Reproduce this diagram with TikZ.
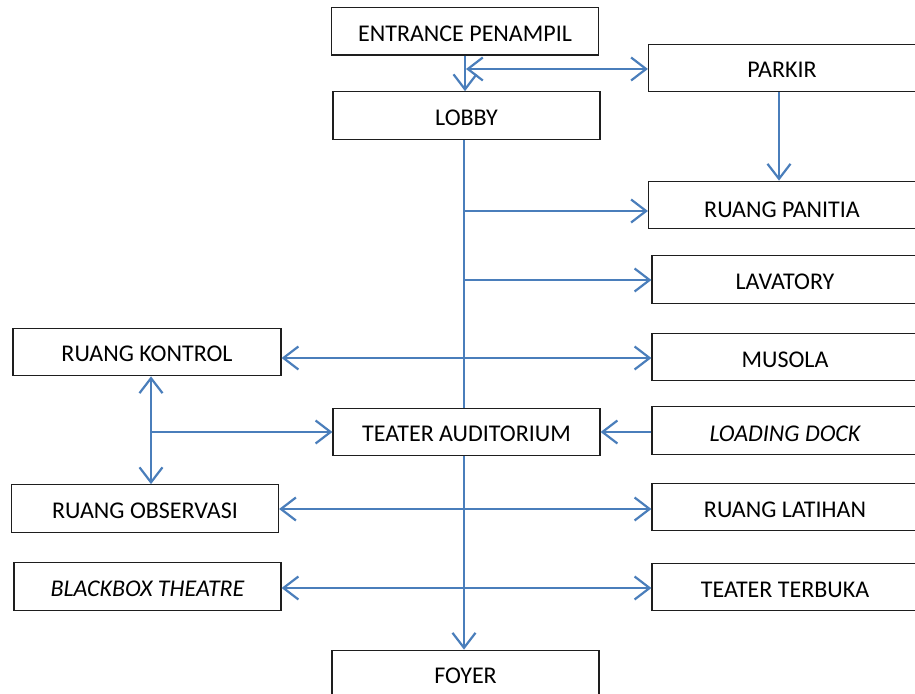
\documentclass[tikz,border=0pt]{standalone}
\usepackage{fontspec}
\setmainfont{Carlito}
\usetikzlibrary{arrows.meta}
\definecolor{flowblue}{RGB}{74,126,187}
\definecolor{boxline}{RGB}{30,30,30}
% box labels sit a little below the geometric centre
\newcommand\boxtext[1]{\raisebox{-1.1pt}[\height][\depth]{#1}}
\begin{document}
\begin{tikzpicture}[x=0.5pt,y=-0.5pt,
  lbl/.style={font=\fontsize{12}{14}\selectfont},
  box/.style={lbl,draw=boxline,line width=0.6pt,fill=white,inner sep=0pt,
    minimum height=23.75pt},
  wbox/.style={box,minimum width=133.5pt},
  rbox/.style={box,minimum width=140pt},
  flow/.style={draw=flowblue,line width=1.1pt},
  arr/.style={flow,-{Straight Barb[length=7.5pt,width=11.5pt,line width=1.1pt]}},
  arrb/.style={flow,{Straight Barb[length=7.5pt,width=11.5pt,line width=1.1pt]}-{Straight Barb[length=7.5pt,width=11.5pt,line width=1.1pt]}}]
\useasboundingbox (0,0) rectangle (915,694);
\clip (0,0) rectangle (915,694);

% central column
\node[wbox] (entrance) at (465,31.25) {\boxtext{ENTRANCE PENAMPIL}};
\node[wbox] (lobby) at (466.5,115.5) {\boxtext{LOBBY}};
\node[wbox] (auditorium) at (466.5,432) {\boxtext{TEATER AUDITORIUM}};
\node[wbox] (foyer) at (465.5,674) {\boxtext{FOYER}};

% right column (boxes run past the right edge)
\node[rbox,minimum width=141.5pt] (parkir) at (790,68) {};
\node[rbox,minimum width=141.5pt] (panitia) at (790,205) {};
\node[rbox] (lavatory) at (792,279.5) {};
\node[rbox] (musola) at (792,357) {};
\node[rbox] (loading) at (792,430.5) {};
\node[rbox] (latihan) at (792,507) {};
\node[rbox] (terbuka) at (792,587) {};
\node[lbl] at (782,70) {PARKIR};
\node[lbl] at (782,210) {RUANG PANITIA};
\node[lbl] at (785,282) {LAVATORY};
\node[lbl] at (785,360) {MUSOLA};
\node[lbl,font=\fontsize{12}{14}\selectfont\itshape] at (785,434) {LOADING DOCK};
\node[lbl] at (785,510) {RUANG LATIHAN};
\node[lbl] at (785,590) {TEATER TERBUKA};

% left column
\node[wbox,minimum width=134pt] (kontrol) at (147,352) {\boxtext{RUANG KONTROL}};
\node[wbox] (observasi) at (145,508.5) {\boxtext{RUANG OBSERVASI}};
\node[wbox] (blackbox) at (147.5,586.5) {\boxtext{\itshape BLACKBOX THEATRE}};

% connectors
\coordinate (spine) at (464,0);
\coordinate (pk) at (779,0);
\coordinate (side) at (151,0);

\draw[arr] (entrance.south) -- (entrance.south |- lobby.north);
\draw[arrb] (466,69) -- (parkir.west |- 0,69);
\draw[arr] (parkir.south -| pk) -- (panitia.north -| pk);

\draw[flow] (lobby.south -| spine) -- (auditorium.north -| spine);
\draw[arr] (auditorium.south -| spine) -- (foyer.north -| spine);

\draw[arr] (spine |- 0,211) -- (panitia.west |- 0,211);
\draw[arr] (spine |- 0,280) -- (lavatory.west |- 0,280);
\draw[arrb] (kontrol.east |- 0,358) -- (musola.west |- 0,358);
\draw[arr] (loading.west |- auditorium.east) -- (auditorium.east);

\draw[arrb] (kontrol.south -| side) -- (observasi.north -| side);
\draw[arr] (side |- auditorium.west) -- (auditorium.west);

\draw[arrb] (observasi.east |- 0,509) -- (latihan.west |- 0,509);
\draw[arrb] (blackbox.east |- 0,588) -- (terbuka.west |- 0,588);
\end{tikzpicture}
\end{document}
